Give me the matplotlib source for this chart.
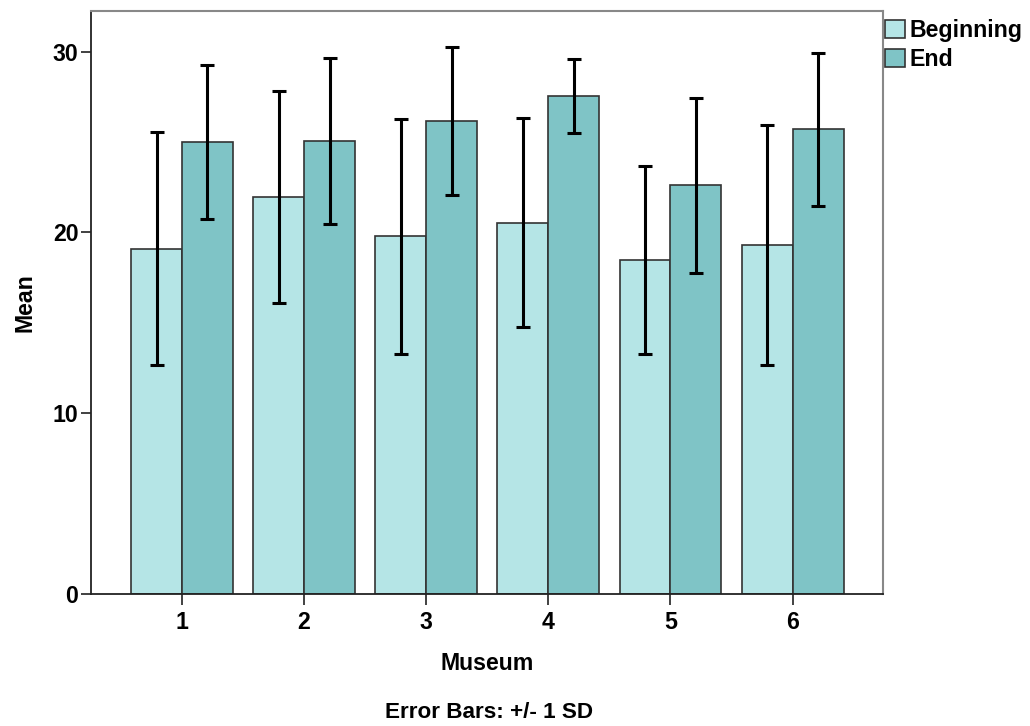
import numpy as np
import matplotlib
matplotlib.use("Agg")
import matplotlib.pyplot as plt

plt.rcParams['font.family'] = ['Liberation Sans', 'DejaVu Sans']
plt.rcParams['font.weight'] = 'bold'

museums = ['1', '2', '3', '4', '5', '6']
beginning_mean = [19.1, 21.95, 19.8, 20.55, 18.5, 19.3]
beginning_sd = [6.45, 5.85, 6.5, 5.8, 5.2, 6.65]
end_mean = [25.0, 25.05, 26.15, 27.55, 22.6, 25.7]
end_sd = [4.25, 4.6, 4.1, 2.05, 4.85, 4.25]
series_labels = ['Beginning', 'End']

col_begin = '#b5e5e6'
col_end = '#7fc4c6'
edge = '#333333'
fs = 16.7

fig = plt.figure(figsize=(10.3, 7.26), dpi=100)
ax = fig.add_axes([91 / 1030, 1 - 594 / 726, (883 - 91) / 1030, (594 - 11) / 726])

x = np.arange(1, len(museums) + 1)
w = 0.417
err_kw = dict(ecolor='black', elinewidth=2.2, capsize=4.8, capthick=2.2)
ax.bar(x - w / 2, beginning_mean, w, yerr=beginning_sd, color=col_begin,
       edgecolor=edge, linewidth=1.2, error_kw=err_kw, label=series_labels[0])
ax.bar(x + w / 2, end_mean, w, yerr=end_sd, color=col_end,
       edgecolor=edge, linewidth=1.2, error_kw=err_kw, label=series_labels[1])

ax.set_xlim(0.255, 6.74)
ax.set_ylim(0, 32.25)
ax.set_xticks(x)
ax.set_xticklabels(museums)
ax.set_yticks([0, 10, 20, 30])
ax.tick_params(axis='x', labelsize=fs, length=8, width=1.3, color='#333333', pad=4)
ax.tick_params(axis='y', labelsize=fs, length=7, width=1.3, color='#333333', pad=2)
for s in ['left', 'bottom']:
    ax.spines[s].set_color('#222222')
    ax.spines[s].set_linewidth(1.3)
for s in ['top', 'right']:
    ax.spines[s].set_color('#888888')
    ax.spines[s].set_linewidth(1.5)

ax.set_ylabel('Mean', fontsize=fs, fontweight='bold', labelpad=12)
ax.set_xlabel('Museum', fontsize=fs, fontweight='bold', labelpad=13)
fig.text(489 / 1030, 1 - 713 / 726, 'Error Bars: +/- 1 SD', ha='center', va='center',
         fontsize=16.2, fontweight='bold')

leg = ax.legend(loc='upper left', bbox_to_anchor=(885 / 1030, 1 - 19 / 726),
                bbox_transform=fig.transFigure, frameon=False, fontsize=fs,
                handlelength=0.85, handleheight=0.85, handletextpad=0.2,
                labelspacing=0.25, borderaxespad=0, borderpad=0)

fig.savefig('out.png', dpi=100)
